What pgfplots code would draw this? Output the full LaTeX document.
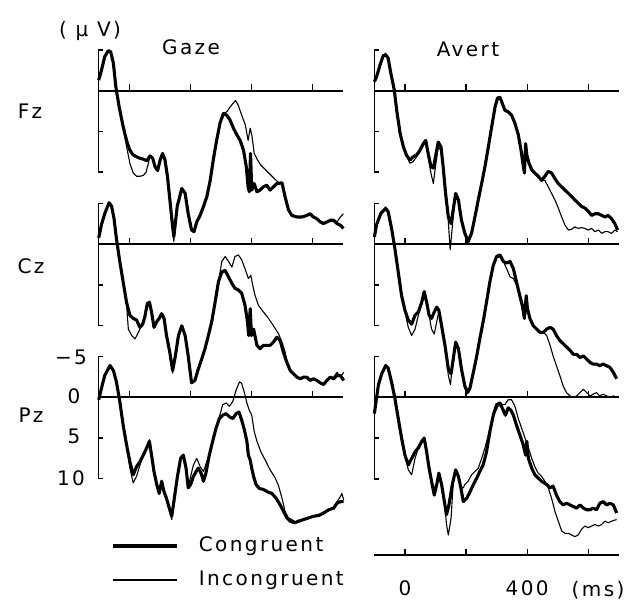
\documentclass[border=0pt]{standalone}
\usepackage{pgfplots}
\pgfplotsset{compat=1.18}
\usepackage{fontspec}
\setmainfont{DejaVu Sans}[LetterSpace=12]

\pgfplotsset{
  erp/.style={scale only axis, width=244.4pt, height=220.05pt,
    xmin=-100, xmax=700, ymin=-6, ymax=21, y dir=reverse,
    axis lines=none, clip=false, anchor=north west},
  cong/.style={black, line width=3.1pt, line join=round, no markers},
  incong/.style={black, line width=1.1pt, line join=round, no markers},
}
% zero line with ticks every 200 ms, and the [ bracket from -5 to 10 uV
\newcommand{\erpframe}{%
  \draw[line width=1.9pt] (axis cs:-100,0) -- (axis cs:700,0);
  \draw[line width=1.3pt] (axis cs:0,0) -- ++(0pt,6.5pt);
  \draw[line width=1.3pt] (axis cs:200,0) -- ++(0pt,6.5pt);
  \draw[line width=1.3pt] (axis cs:400,0) -- ++(0pt,6.5pt);
  \draw[line width=1.3pt] (axis cs:600,0) -- ++(0pt,6.5pt);
  \draw[line width=1.4pt] ([xshift=4.5pt]axis cs:-100,-5) -- (axis cs:-100,-5)
     -- (axis cs:-100,10) -- ([xshift=4.5pt]axis cs:-100,10);
  \draw[line width=1.4pt] (axis cs:-100,5) -- ++(4.5pt,0pt);
}

\begin{document}
\fontsize{20pt}{24pt}\selectfont
\begin{tikzpicture}
\path[use as bounding box] (0pt,0pt) rectangle (635pt,603pt);

% ---------------- Gaze, Fz
\begin{axis}[erp, at={(98.7pt,561.2pt)}]
\erpframe
\addplot[incong] coordinates {
(-100,-1.3) (-91,-2.5) (-80,-4.2) (-69,-4.9) (-61,-4.8) (-52,-3.4) (-44,-0.5) (-33,2.0) (-20,4.4) (-9,6.8) (2,8.9) (13,10.1) (24,10.5) (35,10.5) (46,10.4) (55,10.0) (62,9.0) (68,8.0) (77,8.3) (84,9.3) (93,9.8) (101,8.5) (109,7.7) (117,8.5) (125,10.5) (133,13.4) (142,17.3) (146,18.5) (157,14.2) (172,12.0) (183,12.6) (193,15.1) (204,17.1) (212,17.3) (221,16.1) (232,15.3) (243,14.2) (254,13.0) (265,11.0) (275,8.5) (286,6.1) (297,4.0) (308,2.8) (319,2.6) (330,2.0) (341,1.5) (348,1.2) (357,1.8) (368,3.0) (380,4.2) (389,6.1) (396,4.6) (402,5.6) (409,7.7) (420,8.5) (430,9.1) (446,9.7) (462,10.3) (478,10.9) (490,11.3) (500,11.3) (510,13.0) (521,14.6) (532,15.3) (549,15.5) (565,15.5) (581,15.3) (592,15.1) (603,15.5) (614,15.7) (625,16.1) (636,16.3) (647,16.1) (658,15.9) (669,15.9) (680,16.1) (691,15.5) (701,15.1)
};
\addplot[cong] coordinates {
(-100,-1.3) (-91,-2.5) (-80,-4.2) (-69,-4.9) (-61,-4.8) (-52,-3.4) (-44,-0.5) (-33,2.0) (-20,4.4) (-9,6.1) (2,7.3) (13,7.9) (24,8.1) (35,8.3) (46,8.4) (57,8.6) (68,8.0) (77,8.3) (84,9.3) (93,9.8) (101,8.5) (109,7.7) (117,8.5) (125,10.5) (133,13.4) (142,16.7) (146,17.9) (157,14.2) (172,12.0) (183,12.6) (193,15.1) (204,17.1) (212,17.3) (221,16.1) (232,15.3) (243,14.2) (254,13.0) (265,11.0) (275,8.5) (286,6.1) (297,4.0) (308,2.8) (319,3.0) (330,3.6) (341,4.6) (352,5.4) (363,6.1) (374,7.3) (383,9.3) (389,11.8) (393,12.4) (397,7.7) (401,12.2) (409,11.4) (418,12.4) (428,12.2) (439,11.8) (450,11.6) (461,12.2) (472,11.8) (483,11.4) (500,11.3) (510,13.0) (521,14.6) (532,15.3) (549,15.5) (565,15.5) (581,15.3) (592,15.1) (603,15.5) (614,15.7) (625,16.1) (636,16.3) (647,16.1) (658,15.9) (669,15.9) (680,16.3) (691,16.5) (701,16.9)
};
\end{axis}

% ---------------- Gaze, Cz
\begin{axis}[erp, at={(98.7pt,407.6pt)}]
\erpframe
\addplot[incong] coordinates {
(-100,-0.8) (-91,-2.4) (-80,-3.8) (-66,-5.1) (-58,-4.7) (-50,-3.2) (-42,-0.7) (-31,2.1) (-20,4.6) (-9,7.3) (-3,10.4) (8,11.2) (19,11.6) (30,10.8) (40,10.0) (51,8.9) (59,7.3) (66,7.1) (73,8.3) (81,10.2) (90,9.5) (98,9.1) (106,8.5) (114,9.1) (122,11.2) (133,13.3) (142,15.8) (151,13.7) (161,11.2) (172,10.0) (183,11.2) (193,13.7) (204,17.0) (215,16.7) (226,15.3) (237,14.1) (248,12.8) (259,11.2) (270,9.5) (281,7.1) (292,4.6) (303,2.1) (314,1.5) (325,2.1) (336,2.8) (346,1.5) (357,1.3) (368,1.9) (379,3.0) (390,4.2) (398,3.8) (404,5.0) (412,6.3) (423,7.5) (439,8.3) (456,9.1) (472,10.0) (489,11.0) (500,12.0) (510,13.2) (516,14.3) (527,15.5) (538,15.9) (549,16.3) (560,16.5) (571,16.3) (581,16.3) (592,16.7) (603,16.5) (614,16.7) (625,17.0) (636,17.2) (647,16.7) (658,16.3) (669,16.3) (680,15.7) (691,16.3) (702,15.7)
};
\addplot[cong] coordinates {
(-100,-0.8) (-91,-2.4) (-80,-3.8) (-66,-5.1) (-58,-4.7) (-50,-3.2) (-42,-0.7) (-31,2.1) (-20,4.6) (-9,7.1) (2,8.7) (13,9.1) (24,9.3) (35,10.2) (44,9.8) (51,8.9) (59,7.3) (66,7.1) (73,8.3) (81,10.2) (90,9.5) (98,9.1) (106,8.5) (114,9.1) (122,11.2) (133,13.3) (142,15.5) (151,13.7) (161,11.2) (172,10.0) (183,11.2) (193,13.7) (204,17.0) (215,16.7) (226,15.3) (237,14.1) (248,12.8) (259,11.2) (270,9.5) (281,7.1) (292,4.6) (303,3.4) (314,3.2) (325,4.0) (336,4.8) (346,5.4) (357,5.6) (368,6.0) (379,7.5) (387,9.5) (391,11.2) (396,7.9) (400,11.2) (407,10.4) (418,12.4) (428,12.8) (439,12.4) (461,12.4) (472,12.0) (483,11.4) (494,11.8) (505,13.3) (516,14.5) (527,15.5) (538,15.9) (549,16.3) (560,16.5) (571,16.3) (581,16.3) (592,16.7) (603,16.5) (614,16.7) (625,17.0) (636,17.2) (647,16.7) (658,16.3) (669,16.5) (680,16.1) (691,16.1) (702,16.7)
};
\end{axis}

% ---------------- Gaze, Pz
\begin{axis}[erp, at={(98.7pt,254.6pt)}]
\erpframe
\addplot[incong] coordinates {
(-100,0.3) (-91,-1.1) (-80,-2.7) (-63,-3.9) (-52,-3.3) (-42,-1.9) (-31,0.5) (-20,3.4) (-9,5.8) (2,8.7) (13,10.5) (24,9.7) (35,8.3) (46,7.1) (57,6.2) (66,5.2) (73,7.1) (81,9.1) (90,10.7) (98,11.8) (106,10.3) (114,11.6) (122,12.4) (131,13.6) (139,15.0) (146,12.8) (157,9.9) (168,7.5) (177,7.0) (186,8.7) (193,11.1) (201,9.7) (210,8.3) (221,7.5) (232,8.5) (243,9.1) (254,7.9) (262,6.9) (273,5.4) (284,3.8) (295,2.4) (306,0.9) (317,0.7) (328,1.1) (339,0.5) (350,-0.9) (361,-1.9) (368,-1.7) (376,-0.7) (385,0.7) (393,1.6) (401,2.2) (409,4.2) (418,5.4) (431,6.7) (445,7.7) (461,8.9) (478,9.9) (489,10.9) (500,12.4) (510,14.0) (521,14.8) (532,15.0) (549,15.4) (571,15.0) (587,14.8) (603,14.6) (620,14.5) (636,14.2) (653,13.8) (669,13.6) (680,12.8) (691,12.2) (696,11.8) (702,12.6)
};
\addplot[cong] coordinates {
(-100,0.3) (-91,-1.1) (-80,-2.7) (-63,-3.9) (-52,-3.3) (-42,-1.9) (-31,0.5) (-20,3.4) (-9,5.8) (2,7.9) (13,9.5) (24,8.5) (35,7.9) (46,7.1) (57,6.2) (66,5.4) (73,7.1) (81,9.1) (90,10.7) (98,11.8) (106,10.3) (114,11.6) (122,12.4) (131,13.6) (139,14.6) (146,12.8) (157,9.9) (168,7.5) (177,7.1) (186,8.7) (193,11.1) (201,10.7) (210,9.7) (219,9.1) (226,8.7) (235,9.3) (243,10.3) (251,9.3) (262,7.1) (273,5.4) (284,3.8) (295,2.6) (306,2.2) (317,2.0) (328,2.4) (339,2.6) (350,2.0) (359,1.8) (368,2.8) (377,4.0) (385,5.4) (390,7.1) (396,7.7) (401,8.7) (407,9.7) (415,10.7) (426,11.2) (439,11.3) (453,11.6) (467,11.8) (481,12.4) (494,13.2) (505,14.0) (516,14.8) (527,15.2) (540,15.4) (554,15.2) (571,15.0) (587,14.8) (603,14.6) (620,14.5) (636,14.2) (653,13.8) (669,13.6) (680,13.0) (691,12.8) (702,12.8)
};
\end{axis}

% ---------------- Avert, Fz
\begin{axis}[erp, at={(374.4pt,561.2pt)}]
\erpframe
\addplot[incong] coordinates {
(-100,-1.1) (-93,-1.7) (-82,-3.1) (-71,-4.3) (-63,-4.6) (-55,-4.0) (-46,-2.1) (-35,-0.1) (-27,2.4) (-16,5.2) (-5,6.9) (5,7.9) (16,8.9) (27,8.7) (38,8.1) (49,7.5) (60,6.7) (68,6.3) (76,8.1) (85,10.1) (93,11.4) (100,9.3) (109,6.9) (118,7.3) (125,9.3) (133,12.6) (142,16.1) (148,19.5) (155,16.7) (164,13.0) (175,13.4) (185,15.9) (196,17.5) (207,18.7) (218,17.5) (229,15.5) (240,13.4) (251,11.4) (262,9.3) (273,6.9) (284,4.4) (295,2.0) (303,1.1) (311,0.9) (319,1.6) (327,2.4) (338,2.6) (349,3.0) (360,4.0) (371,5.4) (380,7.3) (386,8.9) (391,10.1) (395,6.9) (399,7.9) (406,8.9) (415,9.7) (425,10.1) (436,10.5) (447,11.0) (458,11.0) (469,11.8) (480,12.6) (491,13.4) (502,14.4) (513,15.5) (524,16.5) (535,17.1) (546,17.0) (556,16.7) (567,16.9) (578,16.8) (589,16.9) (600,17.1) (611,16.9) (622,17.3) (633,17.1) (644,17.5) (655,17.3) (665,17.3) (676,17.5) (687,17.1) (696,17.3)
};
\addplot[cong] coordinates {
(-100,-1.1) (-93,-1.7) (-82,-3.1) (-71,-4.3) (-63,-4.4) (-55,-4.0) (-46,-2.1) (-35,-0.1) (-27,2.4) (-16,5.2) (-5,6.9) (5,7.9) (16,8.5) (27,8.1) (38,7.9) (49,7.3) (60,6.5) (68,6.1) (76,7.7) (85,9.3) (93,9.5) (100,8.1) (109,6.3) (118,6.9) (125,9.3) (133,12.6) (142,15.5) (151,16.3) (158,14.6) (166,12.6) (175,13.4) (185,15.9) (196,17.5) (207,18.5) (218,17.5) (229,15.5) (240,13.4) (251,11.4) (262,9.3) (273,6.9) (284,4.4) (295,2.0) (303,0.9) (311,0.8) (319,1.6) (327,2.4) (338,2.6) (349,3.0) (360,4.0) (371,5.4) (380,7.3) (386,8.9) (391,10.1) (395,6.5) (399,7.9) (406,8.9) (415,9.7) (425,10.1) (436,10.5) (447,11.0) (458,10.5) (469,9.9) (480,10.1) (491,10.8) (502,11.4) (513,11.8) (524,12.2) (535,12.6) (546,13.0) (556,13.4) (567,13.8) (578,14.2) (589,14.4) (600,14.8) (611,15.3) (622,15.1) (633,15.1) (644,15.3) (655,15.5) (665,15.3) (676,15.7) (687,16.3) (696,17.1)
};
\end{axis}

% ---------------- Avert, Cz
\begin{axis}[erp, at={(374.4pt,407.6pt)}]
\erpframe
\addplot[incong] coordinates {
(-100,-0.9) (-93,-2.4) (-79,-3.8) (-63,-4.6) (-55,-4.0) (-44,-2.0) (-33,0.5) (-22,3.4) (-11,6.3) (0,8.3) (11,10.2) (22,11.2) (33,10.4) (44,8.7) (55,7.3) (63,5.9) (71,7.1) (79,8.7) (87,10.4) (96,11.0) (104,9.5) (111,8.2) (120,10.0) (131,12.4) (142,16.1) (149,17.2) (155,14.9) (164,12.4) (175,12.8) (185,15.3) (196,17.4) (205,18.2) (213,17.6) (224,15.7) (235,13.7) (245,11.6) (256,9.5) (267,7.1) (278,4.6) (289,2.6) (300,1.7) (311,1.5) (322,2.1) (333,3.0) (344,4.0) (355,4.2) (365,5.0) (376,6.3) (384,7.5) (391,9.1) (397,6.5) (401,7.9) (409,9.1) (420,10.0) (431,10.4) (442,10.8) (453,10.8) (464,11.2) (475,12.4) (485,13.7) (496,14.9) (507,16.1) (518,17.4) (529,18.2) (540,18.6) (551,18.8) (562,18.6) (573,18.2) (584,17.8) (595,18.2) (606,18.6) (616,18.4) (627,18.2) (638,18.6) (649,18.4) (660,18.6) (671,18.8) (682,18.6) (693,18.8)
};
\addplot[cong] coordinates {
(-100,-0.9) (-93,-2.4) (-79,-3.8) (-63,-4.4) (-55,-4.0) (-44,-2.0) (-33,0.5) (-22,3.4) (-11,6.3) (0,8.1) (11,9.3) (22,9.8) (33,8.7) (44,8.3) (55,7.1) (63,5.8) (71,7.1) (79,8.7) (87,9.1) (96,8.3) (104,7.7) (111,8.1) (120,10.0) (131,12.4) (142,15.3) (151,15.9) (158,14.1) (166,12.0) (175,12.8) (185,15.3) (196,17.4) (205,18.2) (213,17.6) (224,15.7) (235,13.7) (245,11.6) (256,9.5) (267,7.1) (278,4.6) (289,2.6) (300,1.5) (311,1.3) (322,2.1) (333,2.3) (344,2.1) (355,3.0) (365,4.6) (376,6.3) (384,7.5) (391,9.1) (397,6.3) (401,7.9) (409,9.1) (420,10.0) (431,10.4) (442,10.8) (453,10.8) (464,10.4) (475,10.2) (485,10.4) (496,11.2) (507,11.8) (518,12.2) (529,12.6) (540,13.0) (551,13.5) (562,13.5) (573,13.9) (584,13.7) (595,14.1) (606,14.5) (616,14.7) (627,14.7) (638,14.9) (649,14.7) (660,14.9) (671,15.1) (682,15.7) (693,16.5)
};
\end{axis}

% ---------------- Avert, Pz
\begin{axis}[erp, at={(374.4pt,254.6pt)}]
\erpframe
\addplot[incong] coordinates {
(-100,2.0) (-96,0.9) (-87,-1.5) (-76,-2.9) (-63,-3.9) (-55,-3.6) (-44,-1.9) (-33,0.1) (-22,2.6) (-11,5.0) (0,7.1) (11,8.9) (22,9.5) (33,7.5) (44,6.2) (55,5.4) (63,5.0) (71,6.7) (79,8.7) (87,10.3) (96,12.0) (104,10.7) (111,9.3) (120,10.7) (129,12.8) (136,15.6) (142,16.9) (151,14.8) (158,10.5) (166,8.9) (175,9.7) (183,11.1) (191,11.1) (196,10.7) (207,10.3) (218,9.5) (229,9.1) (240,8.7) (251,7.5) (262,6.2) (273,4.6) (284,3.0) (295,1.8) (305,1.1) (316,0.9) (327,0.9) (338,0.3) (349,0.3) (360,1.1) (371,2.6) (382,3.8) (393,5.0) (404,6.2) (415,7.5) (425,8.5) (436,9.3) (447,9.7) (458,10.3) (469,11.1) (480,12.4) (491,14.0) (502,15.2) (513,16.4) (524,16.7) (535,16.7) (546,16.9) (556,17.1) (567,16.9) (578,16.2) (589,15.8) (600,16.0) (611,15.8) (622,15.6) (633,15.8) (644,15.6) (655,15.2) (665,15.4) (676,15.2) (693,15.0)
};
\addplot[cong] coordinates {
(-100,2.0) (-96,0.9) (-87,-1.5) (-76,-2.9) (-63,-3.9) (-55,-3.6) (-44,-1.9) (-33,0.1) (-22,2.6) (-11,5.0) (0,7.1) (11,8.3) (22,7.5) (33,6.7) (44,6.2) (55,5.4) (63,5.0) (71,6.7) (79,8.7) (87,10.3) (96,12.0) (104,10.7) (111,9.3) (120,10.7) (129,12.8) (136,14.4) (144,13.2) (155,10.7) (166,8.9) (175,9.7) (183,11.1) (191,12.8) (202,12.4) (213,11.6) (224,10.7) (235,9.9) (245,9.1) (256,8.3) (267,6.7) (278,4.2) (289,2.2) (300,0.9) (311,0.7) (322,1.6) (329,2.2) (338,1.3) (347,1.6) (355,2.2) (365,3.4) (376,4.6) (387,5.8) (395,7.1) (399,5.4) (404,7.5) (415,8.7) (425,9.5) (436,9.9) (447,10.3) (464,10.7) (475,11.1) (485,10.9) (496,12.0) (507,12.8) (518,13.2) (529,13.0) (540,13.2) (551,13.4) (562,13.6) (573,13.2) (584,13.6) (595,13.8) (606,13.8) (616,13.6) (627,13.8) (638,13.0) (649,12.8) (660,13.2) (671,13.0) (682,13.2) (693,14.2)
};
% time axis under the last panel
\draw[line width=1.9pt] (axis cs:-100,19.4) -- (axis cs:700,19.4);
\draw[line width=1.3pt] (axis cs:0,19.4) -- ++(0pt,6.5pt);
\draw[line width=1.3pt] (axis cs:200,19.4) -- ++(0pt,6.5pt);
\draw[line width=1.3pt] (axis cs:400,19.4) -- ++(0pt,6.5pt);
\draw[line width=1.3pt] (axis cs:600,19.4) -- ++(0pt,6.5pt);
\node[anchor=mid] at (axis cs:0,23.6) {0};
\node[anchor=mid] at (axis cs:400,23.6) {400};
\node[anchor=mid] at (axis cs:632,23.8) {(ms)};
\end{axis}

% labels
\node[anchor=mid] at (90pt,572pt) {( μ V)};
\node[anchor=mid] at (191pt,554pt) {Gaze};
\node[anchor=mid] at (468pt,552pt) {Avert};
\node[anchor=mid] at (30pt,490pt) {Fz};
\node[anchor=mid] at (31pt,335pt) {Cz};
\node[anchor=mid] at (31pt,186pt) {Pz};
\node[anchor=mid] at (71pt,244pt) {−5};
\node[anchor=mid] at (74pt,205pt) {0};
\node[anchor=mid] at (74pt,165pt) {5};
\node[anchor=mid] at (71pt,123pt) {10};

% legend
\draw[line width=3.1pt] (113pt,57pt) -- (177pt,57pt);
\node[anchor=mid west] at (192pt,57pt) {Congruent};
\draw[line width=1.1pt] (113pt,23pt) -- (177pt,23pt);
\node[anchor=mid west] at (192pt,23pt) {Incongruent};
\end{tikzpicture}
\end{document}
